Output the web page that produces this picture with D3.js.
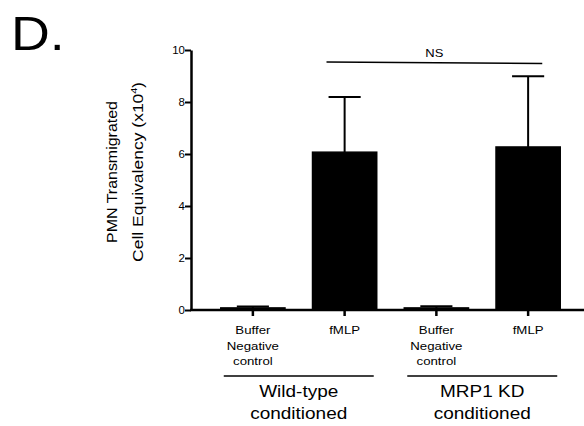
<!DOCTYPE html>
<html>
<head>
<meta charset="utf-8">
<script src="https://cdn.jsdelivr.net/npm/d3@7"></script>
<style>
  body { margin: 0; background: #fff; }
  svg { font-family: "Liberation Sans", Arial, sans-serif; }
</style>
</head>
<body>
<svg id="board" width="584" height="426"></svg>
<script>
// chart data
let categories = ['wt-buffer', 'wt-fmlp', 'kd-buffer', 'kd-fmlp']
let categoryLabels = [['Buffer', 'Negative', 'control'], ['fMLP'], ['Buffer', 'Negative', 'control'], ['fMLP']]
let means = [0.08, 6.07, 0.08, 6.27]
let errors = [0.05, 2.12, 0.06, 2.72]
let yTicks = [0, 2, 4, 6, 8, 10]
let groupNames = [['Wild-type', 'conditioned'], ['MRP1 KD', 'conditioned']]
let groupMembers = [['wt-buffer', 'wt-fmlp'], ['kd-buffer', 'kd-fmlp']]
let sigLabel = 'NS'
let sigPair = ['wt-fmlp', 'kd-fmlp']

let board = d3.select('#board')

// the figure's type is a bit wider than Liberation Sans, so stretch text along its run
let stretch = (sel, k) => {
    sel.each(function () {
        let len = this.getComputedTextLength()
        d3.select(this).attr('textLength', len * k).attr('lengthAdjust', 'spacingAndGlyphs')
    })
}

let yScale = d3.scaleLinear().domain([0, 10]).range([310, 50])
let xScale = d3.scaleBand()
    .domain(categories)
    .range([207, 574])
    .paddingInner(0.3)
    .paddingOuter(0.15)

// panel letter
let letter = board.append('text')
    .attr('x', 11)
    .attr('y', 50)
    .attr('font-size', 48)
    .text('D.')
stretch(letter, 1.12)

// y axis
let yAxis = d3.axisLeft(yScale).tickValues(yTicks).tickSize(6).tickSizeOuter(0)
let yg = board.append('g')
    .attr('transform', 'translate(191,0)')
    .call(yAxis)
yg.select('.domain').attr('stroke-width', 2.5)
yg.selectAll('.tick line').attr('stroke-width', 2)
yg.selectAll('.tick text').attr('font-size', 11.5).attr('x', -6).attr('font-family', '"Liberation Sans", Arial, sans-serif')

// y title
let yTitle = board.append('text')
    .attr('transform', 'translate(117,172) rotate(-90)')
    .attr('text-anchor', 'middle')
    .attr('font-size', 14)
let t1 = yTitle.append('tspan').attr('x', 0).attr('dy', 0).text('PMN Transmigrated')
let t2 = yTitle.append('tspan').attr('x', 0).attr('dy', 26).text('Cell Equivalency (x10')
let t3 = yTitle.append('tspan').attr('font-size', 9).attr('dy', -6).text('4')
let t4 = yTitle.append('tspan').attr('dy', 6).text(')')
stretch(t1, 1.14)
stretch(t2, 1.25)
stretch(t3, 1.2)
stretch(t4, 1.2)

// bars
board.selectAll('rect.bar')
    .data(categories)
    .enter()
    .append('rect')
    .attr('class', 'bar')
    .attr('x', (d) => xScale(d))
    .attr('width', xScale.bandwidth())
    .attr('y', (d, i) => yScale(means[i]))
    .attr('height', (d, i) => yScale(0) - yScale(means[i]))
    .attr('fill', '#000')
    .attr('stroke', '#000')
    .attr('stroke-width', 1.5)

// error bars (upper only)
let errG = board.append('g').attr('stroke', '#000').attr('stroke-width', 2)
categories.forEach((c, i) => {
    let cx = xScale(c) + xScale.bandwidth() / 2
    let capW = xScale.bandwidth() / 4
    errG.append('line')
        .attr('x1', cx).attr('x2', cx)
        .attr('y1', yScale(means[i])).attr('y2', yScale(means[i] + errors[i]))
    errG.append('line')
        .attr('x1', cx - capW).attr('x2', cx + capW)
        .attr('y1', yScale(means[i] + errors[i])).attr('y2', yScale(means[i] + errors[i]))
})

// x axis
let xAxis = d3.axisBottom(xScale).tickSize(6).tickSizeOuter(0).tickFormat('')
let xg = board.append('g')
    .attr('transform', 'translate(0,310)')
    .call(xAxis)
xg.select('.domain').remove()
xg.selectAll('.tick line').attr('stroke-width', 2.5)
board.append('line')
    .attr('x1', 190).attr('x2', 584)
    .attr('y1', 310).attr('y2', 310)
    .attr('stroke', '#000').attr('stroke-width', 2.5)

// category labels
categories.forEach((c, i) => {
    let t = board.append('text')
        .attr('x', xScale(c) + xScale.bandwidth() / 2)
        .attr('y', 334)
        .attr('text-anchor', 'middle')
        .attr('font-size', 11.5)
    categoryLabels[i].forEach((s, j) => {
        t.append('tspan')
            .attr('x', xScale(c) + xScale.bandwidth() / 2)
            .attr('dy', j === 0 ? 0 : 15.5)
            .text(s)
    })
    stretch(t.selectAll('tspan'), 1.15)
})

// group lines and labels
groupMembers.forEach((g, i) => {
    let x1 = xScale(g[0]) + 3
    let x2 = xScale(g[1]) + xScale.bandwidth() - 3
    board.append('line')
        .attr('x1', x1).attr('x2', x2)
        .attr('y1', 376).attr('y2', 376)
        .attr('stroke', '#000').attr('stroke-width', 1.5)
    let t = board.append('text')
        .attr('x', (x1 + x2) / 2)
        .attr('y', 397)
        .attr('text-anchor', 'middle')
        .attr('font-size', 16.5)
    groupNames[i].forEach((s, j) => {
        t.append('tspan')
            .attr('x', (x1 + x2) / 2)
            .attr('dy', j === 0 ? 0 : 21.5)
            .text(s)
    })
    stretch(t.selectAll('tspan'), 1.15)
})

// significance line
let sx1 = xScale(sigPair[0]) + 14
let sx2 = xScale(sigPair[1]) + xScale.bandwidth() - 18
board.append('line')
    .attr('x1', sx1).attr('x2', sx2)
    .attr('y1', 62).attr('y2', 63.5)
    .attr('stroke', '#000').attr('stroke-width', 1.5)
let ns = board.append('text')
    .attr('x', (sx1 + sx2) / 2)
    .attr('y', 57)
    .attr('text-anchor', 'middle')
    .attr('font-size', 11)
    .text(sigLabel)
stretch(ns, 1.18)
</script>
</body>
</html>
